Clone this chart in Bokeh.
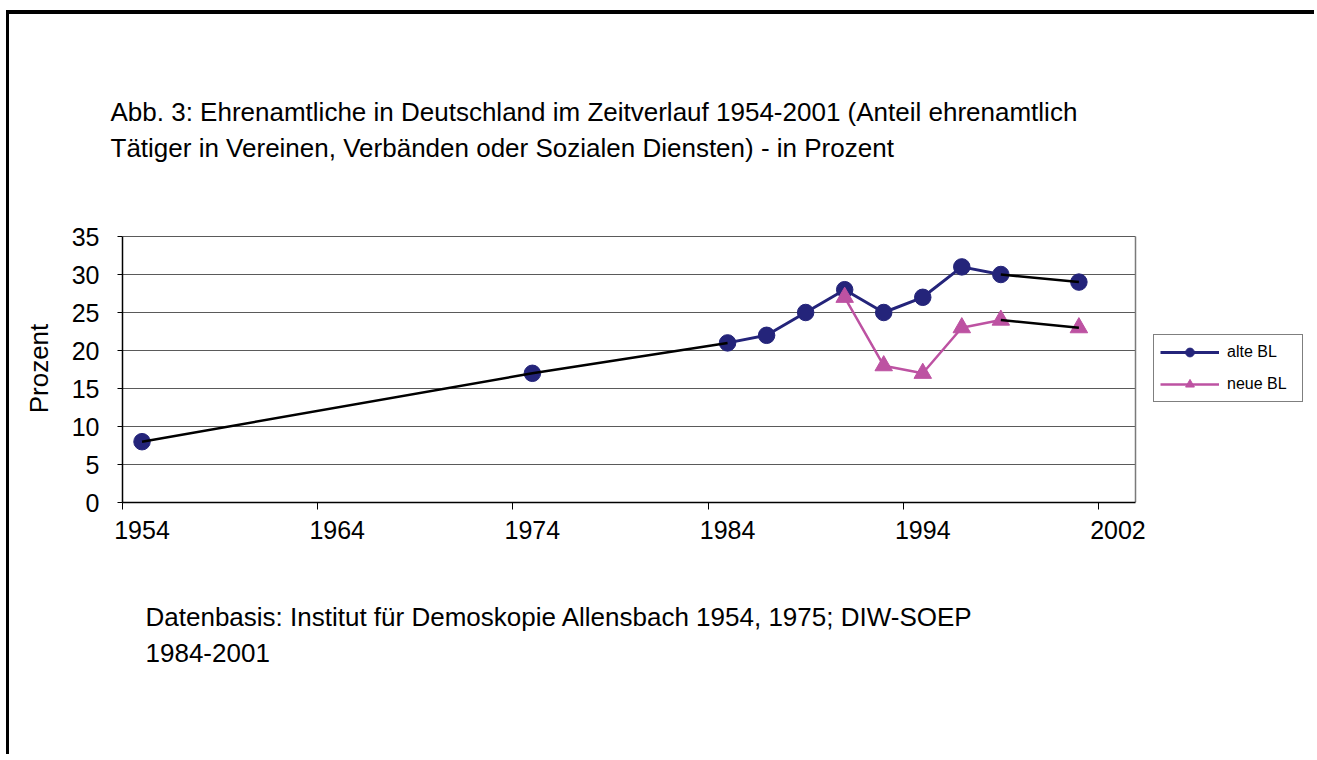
from bokeh.plotting import figure
from bokeh.models import Range1d, FixedTicker, Legend, LegendItem, Title
from bokeh.embed import file_html
from bokeh.resources import INLINE

# ---- data ----
years_alte = [1954, 1974, 1984, 1986, 1988, 1990, 1992, 1994, 1996, 1998, 2002]
alte_bl = [8, 17, 21, 22, 25, 28, 25, 27, 31, 30, 29]
years_neue = [1990, 1992, 1994, 1996, 1998, 2002]
neue_bl = [27, 18, 17, 23, 24, 23]

x_label_pos = [1954, 1964, 1974, 1984, 1994, 2004]
x_label_text = ["1954", "1964", "1974", "1984", "1994", "2002"]
x_tick_marks = [1953, 1963, 1973, 1983, 1993, 2003]
y_ticks = [0, 5, 10, 15, 20, 25, 30, 35]

title_text = ("Abb. 3: Ehrenamtliche in Deutschland im Zeitverlauf 1954-2001 (Anteil ehrenamtlich\n"
              "Tätiger in Vereinen, Verbänden oder Sozialen Diensten) - in Prozent")
source_text = ("Datenbasis: Institut für Demoskopie Allensbach 1954, 1975; DIW-SOEP\n"
               "1984-2001")

NAVY = "#24247a"
PINK = "#bd52a2"
GRID = "#5a5a5a"
FONT = "Liberation Sans"

# plot-area extent in data units
X0, XB = 1953, 2004.9
Y0, YB = 0, 35

OX, OY = 9, 14          # canvas origin on the page (inside the CSS frame)
W, H = 1308, 744
FL, FT, FB = 122 - OX, 234 - OY, 502 - OY
MBR = 2
frame_w = W - MBR - FL
ppu_x = (1135 - 122) / (XB - X0)
ppu_y = (502 - 236) / (YB - Y0)
x_end = X0 + frame_w / ppu_x
y_end = YB + (236 - 234) / ppu_y

p = figure(width=W, height=H, output_backend="svg", toolbar_location=None,
           x_range=Range1d(X0, x_end), y_range=Range1d(Y0, y_end),
           min_border_left=FL, min_border_right=MBR,
           min_border_top=FT, min_border_bottom=H - FB)
p.styles = {"border-left": "3px solid black", "border-top": "4px solid black",
            "margin-left": "6px", "margin-top": "10px"}
p.background_fill_color = "white"
p.border_fill_color = "white"
p.outline_line_color = None

# x axis
xa = p.xaxis[0]
xa.bounds = (X0, XB)
xa.ticker = FixedTicker(ticks=x_label_pos, minor_ticks=x_tick_marks)
xa.major_label_overrides = {k: v for k, v in zip(x_label_pos, x_label_text)}
xa.major_tick_line_color = None
xa.major_tick_out = 0
xa.major_tick_in = 0
xa.minor_tick_line_color = "black"
xa.minor_tick_out = 7
xa.minor_tick_in = 0
xa.minor_tick_line_width = 1
xa.axis_line_color = "black"
xa.axis_line_width = 1.5
xa.major_label_text_font = FONT
xa.major_label_text_font_size = "25px"
xa.major_label_text_color = "black"
xa.major_label_standoff = 11

# y axis
ya = p.yaxis[0]
ya.bounds = (Y0, YB)
ya.ticker = FixedTicker(ticks=y_ticks)
ya.minor_tick_line_color = None
ya.major_tick_out = 5
ya.major_tick_in = 0
ya.major_tick_line_color = "black"
ya.axis_line_color = "black"
ya.axis_line_width = 1.5
ya.major_label_text_font = FONT
ya.major_label_text_font_size = "25px"
ya.major_label_text_color = "black"
ya.major_label_standoff = 18
ya.axis_label = "Prozent"
ya.axis_label_text_font = FONT
ya.axis_label_text_font_size = "26px"
ya.axis_label_text_font_style = "normal"
ya.axis_label_text_color = "black"
ya.axis_label_standoff = 15

p.xgrid.grid_line_color = None
p.ygrid.grid_line_color = None

# plot-area grid lines and right border, limited to the plot area
p.segment(x0=X0, x1=XB, y0=y_ticks[1:], y1=y_ticks[1:], line_color=GRID, line_width=1.2)
p.segment(x0=XB, x1=XB, y0=Y0, y1=YB, line_color="#7a7a7a", line_width=1.5)

# series lines and markers
l_alte = p.line(years_alte[2:10], alte_bl[2:10], line_color=NAVY, line_width=3)
l_neue = p.line(years_neue[:-1], neue_bl[:-1], line_color=PINK, line_width=2.5)
s_alte = p.scatter(years_alte, alte_bl, marker="circle", size=16.5,
                   fill_color=NAVY, line_color=NAVY)
s_neue = p.scatter(years_neue, neue_bl, marker="triangle", size=17.5,
                   fill_color=PINK, line_color=PINK)
# black connecting segments (gaps between survey series)
p.line(years_alte[:3], alte_bl[:3], line_color="black", line_width=2.5)
p.line(years_alte[-2:], alte_bl[-2:], line_color="black", line_width=2.5)
p.line(years_neue[-2:], neue_bl[-2:], line_color="black", line_width=2.5)

legend = Legend(items=[LegendItem(label="alte BL", renderers=[l_alte, s_alte]),
                       LegendItem(label="neue BL", renderers=[l_neue, s_neue])],
                location=(1153 - 122, 100), orientation="vertical",
                border_line_color="black", border_line_width=1,
                background_fill_color="white", background_fill_alpha=1,
                label_text_font=FONT, label_text_font_size="16px",
                label_text_color="black",
                glyph_width=59, glyph_height=22, spacing=10, padding=6,
                margin=0, label_standoff=8, label_width=69)
p.add_layout(legend, "center")

# title (above) and source note (below)
p.add_layout(Title(text=title_text, align="left", offset=-12, standoff=143,
                   text_font=FONT, text_font_size="26px", text_font_style="normal",
                   text_color="black", text_line_height=1.2), "above")
p.add_layout(Title(text=source_text, align="left", offset=23, standoff=116,
                   text_font=FONT, text_font_size="26px", text_font_style="normal",
                   text_color="black", text_line_height=1.2), "below")

open("out.html", "w").write(file_html(p, INLINE))
